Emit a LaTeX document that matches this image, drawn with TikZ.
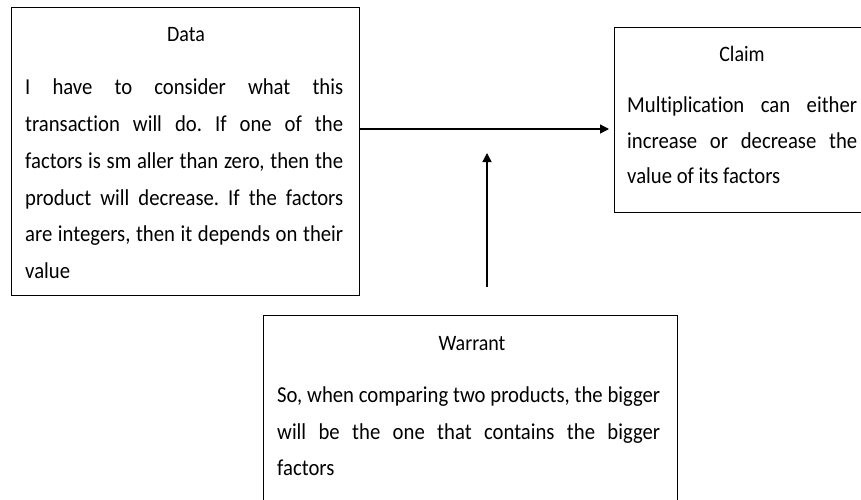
\documentclass[tikz,border=0pt]{standalone}
\usepackage{graphicx}
\usepackage{fontspec}
\setmainfont{Carlito}[Ligatures=NoCommon]
\usetikzlibrary{arrows.meta}
\newcommand{\sy}[1]{\scalebox{1}[1.1]{#1}}
\begin{document}
\frenchspacing
\begin{tikzpicture}[x=1pt,y=-1pt,
  box/.style={draw,line width=1.3pt,anchor=north west,inner sep=0pt},
  txt/.style={inner sep=0pt,font=\fontsize{20.7}{24}\selectfont\frenchspacing},
  ttl/.style={inner sep=0pt,font=\fontsize{20}{24}\selectfont,anchor=base},
  ln/.style={txt,anchor=base west},
  conn/.style={line width=1.3pt,-{Triangle[length=9pt,width=9pt]}}]
\useasboundingbox (0,0) rectangle (861,499);
\clip (0,0) rectangle (861,499);
% boxes
\node[box,minimum width=348pt,minimum height=288pt] (data) at (11,7) {};
\node[box,minimum width=260pt,minimum height=185pt] (claim) at (614,27) {};
\node[box,minimum width=414pt,minimum height=220pt] (warrant) at (263,315) {};
% Data text
\node[ttl] (dt) at (186,41) {\sy{Data}};
\node[ln] (d1) at (25,94) {\sy{\makebox[318pt][s]{I have to consider what this}}};
\node[ln] (d2) at (25,131) {\sy{\makebox[318pt][s]{transaction will do. If one of the}}};
\node[ln] (d3) at (25,168) {\sy{\makebox[318pt][s]{factors is sm aller than zero, then the}}};
\node[ln] (d4) at (25,205) {\sy{\makebox[318pt][s]{product will decrease. If the factors}}};
\node[ln] (d5) at (25,241) {\sy{\makebox[318pt][s]{are integers, then it depends on their}}};
\node[ln] (d6) at (25,278) {\sy{value}};
% Claim text
\node[ttl] (ct) at (742,61) {\sy{Claim}};
\node[ln] (c1) at (627,112) {\sy{\makebox[230pt][s]{Multiplication can either}}};
\node[ln] (c2) at (627,148) {\sy{\makebox[230pt][s]{increase or decrease the}}};
\node[ln] (c3) at (627,183) {\sy{value of its factors}};
% Warrant text
\node[ttl] (wt) at (472,350) {\sy{Warrant}};
\node[ln] (w1) at (277,402) {\sy{\makebox[383pt][s]{So, when comparing two products, the bigger}}};
\node[ln] (w2) at (277,439) {\sy{\makebox[383pt][s]{will be the one that contains the bigger}}};
\node[ln] (w3) at (277,475) {\sy{factors}};
% connectors
\coordinate (dc) at (359,129);
\draw[conn,shorten >=5pt] (dc) -- (dc -| claim.west);
\coordinate (wb) at (487,287);
\coordinate (wa) at (487,153);
\draw[conn] (wb) -- (wa);
\end{tikzpicture}
\end{document}
